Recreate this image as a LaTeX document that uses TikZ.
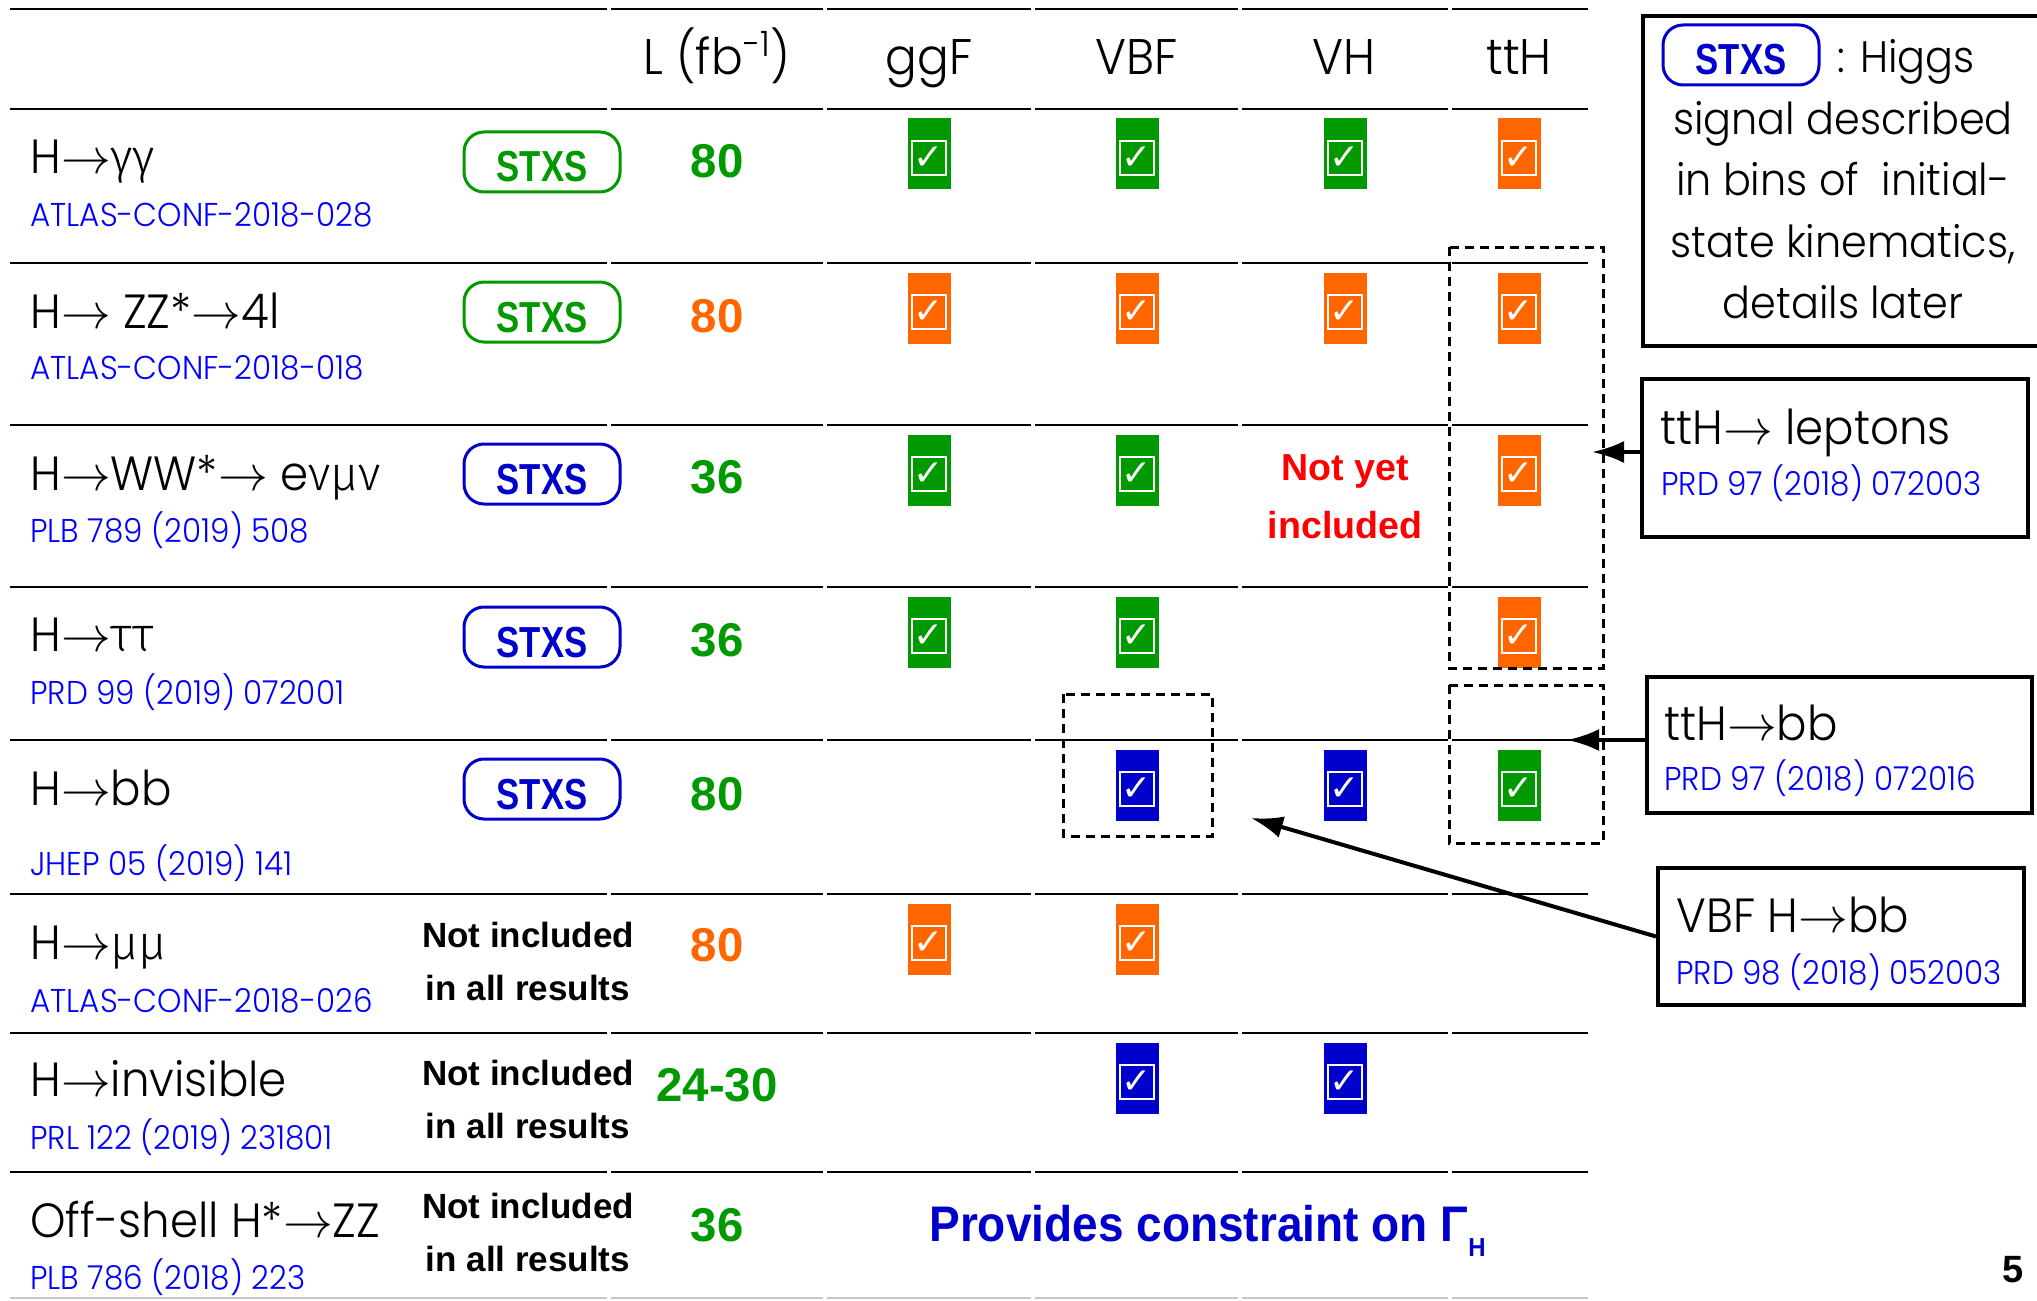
\documentclass[tikz,border=0pt]{standalone}
\usepackage{fontspec}
\setmainfont{Poppins}[UprightFont=* Light, FakeStretch=0.94]
\newfontfamily\grk{Fira Sans Light}
\newfontfamily\symfont{DejaVu Sans}
\newfontfamily\heavy{Liberation Sans Bold}
\newfontfamily\stxsfont{Liberation Sans Bold}[FakeStretch=0.8]
\newfontfamily\provfont{Liberation Sans Bold}[FakeStretch=0.92]
\usetikzlibrary{arrows.meta}
\tikzset{>={Latex[length=16pt,width=11pt]}}

\definecolor{tkgreen}{RGB}{0,153,0}
\definecolor{tkorange}{RGB}{255,102,0}
\definecolor{tkblue}{RGB}{0,0,204}
\definecolor{refblue}{RGB}{0,0,255}
\definecolor{nyred}{RGB}{255,0,0}

\newcommand{\hto}{\ensuremath{\rightarrow}}

\tikzset{
    rule/.style={line width=1.2pt},
    proc/.style={anchor=base west, inner sep=0pt, font=\fontsize{24}{24}\selectfont},
    paper/.style={anchor=base west, inner sep=0pt, text=refblue, font=\fontsize{16.5}{16.5}\selectfont},
    colhead/.style={anchor=base, inner sep=0pt, font=\fontsize{25}{25}\selectfont},
    lumi/.style={anchor=base, inner sep=0pt, text=#1, font=\heavy\fontsize{23.7}{23.7}\selectfont},
    note/.style={anchor=base, inner sep=0pt, font=\heavy\fontsize{17.5}{17.5}\selectfont},
    stxs/.style={draw=#1, text=#1, line width=1.5pt, rounded corners=10pt,
        minimum width=78pt, minimum height=30pt, inner sep=0pt, text height=20pt, text depth=0pt,
        font=\stxsfont\fontsize{21.7}{21.7}\selectfont},
    tickbox/.style={fill=#1, minimum width=21.5pt, minimum height=35.5pt, inner sep=0pt},
    tickmark/.style={draw=white, line width=1pt, minimum size=17pt, inner sep=0pt,
        text=white, font=\symfont\fontsize{18}{18}\selectfont},
    infobox/.style={draw, line width=2pt, anchor=north west, inner sep=0pt},
    group/.style={line width=1.5pt, dash pattern=on 4.5pt off 3pt}
}

\begin{document}
\begin{tikzpicture}[x=0.5pt, y=-0.5pt]
    \useasboundingbox (0,0) rectangle (2037,1300);
    \clip (0,0) rectangle (2037,1300);
    \fill[white] (0,0) rectangle (2037,1300);

    % table rules
    \foreach \y in {9,109,263,425,587,740,894,1033,1172}
        \foreach \a/\b in {10/607,611/823,827/1031,1035/1238,1242/1448,1452/1588}
            \draw[rule] (\a,\y) -- (\b,\y);
    \foreach \a/\b in {10/607,611/823,827/1031,1035/1238,1242/1448,1452/1588}
        \draw[rule, gray!45] (\a,1298) -- (\b,1298);

    % header
    \node[colhead] (hlumi) at (717,75) {L (fb\textsuperscript{-1})};
    \node[colhead] (hggf) at (929,75) {ggF};
    \node[colhead] (hvbf) at (1137,75) {VBF};
    \node[colhead] (hvh) at (1344,75) {VH};
    \node[colhead] (htth) at (1519,75) {ttH};

    % channels
    \node[proc] (pgg) at (30,174) {H\hto{\grk γγ}};
    \node[paper] (rgg) at (30,227) {ATLAS-CONF-2018-028};
    \node[proc] (pzz) at (30,328) {H\hto\ ZZ*\hto 4l};
    \node[paper] (rzz) at (30,379) {ATLAS-CONF-2018-018};
    \node[proc] (pww) at (30,490) {H\hto WW*\hto\ e{\grk νμν}};
    \node[paper] (rww) at (30,542) {PLB 789 (2019) 508};
    \node[proc] (ptt) at (30,651) {H\hto{\grk ττ}};
    \node[paper] (rtt) at (30,704) {PRD 99 (2019) 072001};
    \node[proc] (pbb) at (30,805) {H\hto bb};
    \node[paper] (rbb) at (30,875) {JHEP 05 (2019) 141};
    \node[proc] (pmm) at (30,959) {H\hto{\grk μμ}};
    \node[paper] (rmm) at (30,1012) {ATLAS-CONF-2018-026};
    \node[proc] (pinv) at (30,1096) {H\hto invisible};
    \node[paper] (rinv) at (30,1149) {PRL 122 (2019) 231801};
    \node[proc] (poff) at (30,1237) {Off-shell H*\hto ZZ};
    \node[paper] (roff) at (30,1289) {PLB 786 (2018) 223};

    % STXS tags
    \node[stxs=tkgreen] (sgg) at (542,162) {STXS};
    \node[stxs=tkgreen] (szz) at (542,312) {STXS};
    \node[stxs=tkblue] (sww) at (542,474) {STXS};
    \node[stxs=tkblue] (stt) at (542,637) {STXS};
    \node[stxs=tkblue] (sbb) at (542,789) {STXS};
    \node[note] (nmm1) at (528,947) {Not included};
    \node[note] (nmm2) at (528,1000) {in all results};
    \node[note] (ninv1) at (528,1085) {Not included};
    \node[note] (ninv2) at (528,1138) {in all results};
    \node[note] (noff1) at (528,1218) {Not included};
    \node[note] (noff2) at (528,1271) {in all results};

    % luminosities
    \node[lumi=tkgreen] (lgg) at (717,178) {80};
    \node[lumi=tkorange] (lzz) at (717,332) {80};
    \node[lumi=tkgreen] (lww) at (717,493) {36};
    \node[lumi=tkgreen] (ltt) at (717,656) {36};
    \node[lumi=tkgreen] (lbb) at (717,810) {80};
    \node[lumi=tkorange] (lmm) at (717,961) {80};
    \node[lumi=tkgreen] (linv) at (717,1101) {24-30};
    \node[lumi=tkgreen] (loff) at (717,1241) {36};

    % production modes
    \foreach \x/\y/\c in {929/109/tkgreen, 1137/109/tkgreen, 1345/109/tkgreen, 1519/109/tkorange,
            929/263/tkorange, 1137/263/tkorange, 1345/263/tkorange, 1519/263/tkorange,
            929/425/tkgreen, 1137/425/tkgreen, 1519/425/tkorange,
            929/587/tkgreen, 1137/587/tkgreen, 1519/587/tkorange,
            1137/740/tkblue, 1345/740/tkblue, 1519/740/tkgreen,
            929/894/tkorange, 1137/894/tkorange,
            1137/1033/tkblue, 1345/1033/tkblue} {
        \node[tickbox=\c] (box-\x-\y) at (\x,\y+45) {};
        \node[tickmark] (mark-\x-\y) at (\x,\y+49) {✓};
    }
    \node[note, text=nyred, font=\heavy\fontsize{18.8}{18.8}\selectfont] (ny1) at (1345,480) {Not yet};
    \node[note, text=nyred, font=\heavy\fontsize{18.8}{18.8}\selectfont] (ny2) at (1345,538) {included};
    \node[anchor=base west, inner sep=0pt, text=tkblue, font=\provfont\fontsize{25}{25}\selectfont] (width)
        at (929,1241) {Provides constraint on Γ\raisebox{-7.5pt}{\fontsize{13}{13}\selectfont H}};

    \draw[group] (1449,247) rectangle (1603,668);
    \draw[group] (1449,685) rectangle (1603,843);
    \draw[group] (1063,694) rectangle (1212,836);

    % side notes
    \node[infobox, minimum width=202pt, minimum height=165pt] (legend) at (1641,14) {};
    \node[stxs=tkblue] (slegend) at (1741,55) {STXS};
    \node[anchor=base west, inner sep=0pt, font=\fontsize{22}{22}\selectfont] (leg0) at (1837,73) {: Higgs};
    \node[anchor=base, inner sep=0pt, font=\fontsize{22}{22}\selectfont] (leg1) at (1843,135) {signal described};
    \node[anchor=base, inner sep=0pt, font=\fontsize{22}{22}\selectfont] (leg2) at (1843,196) {in bins of~ initial-};
    \node[anchor=base, inner sep=0pt, font=\fontsize{22}{22}\selectfont] (leg3) at (1843,257) {state kinematics,};
    \node[anchor=base, inner sep=0pt, font=\fontsize{22}{22}\selectfont] (leg4) at (1843,318) {details later};

    \node[infobox, minimum width=193pt, minimum height=79pt] (lepbox) at (1640,377) {};
    \node[proc] (lept) at (1660,444) {ttH\hto\ leptons};
    \node[paper] (lepr) at (1661,495) {PRD 97 (2018) 072003};
    \node[infobox, minimum width=192.5pt, minimum height=68pt] (bbbox) at (1645,675) {};
    \node[proc] (bbt) at (1664,740) {ttH\hto bb};
    \node[paper] (bbr) at (1664,790) {PRD 97 (2018) 072016};
    \node[infobox, minimum width=183pt, minimum height=68.5pt] (vbfbox) at (1656,866) {};
    \node[proc] (vbft) at (1676,932) {VBF H\hto bb};
    \node[paper] (vbfr) at (1676,984) {PRD 98 (2018) 052003};

    \coordinate (lepTip) at (1592,452);
    \coordinate (bbTip) at (1567,740);
    \coordinate (vbfTip) at (1251,818);
    \draw[->, line width=2pt] (lepbox.west |- lepTip) -- (lepTip);
    \draw[->, line width=2pt] (bbbox.west |- bbTip) -- (bbTip);
    \draw[->, line width=2pt] (vbfbox.west) -- (vbfTip);

    \node[anchor=base, inner sep=0pt, font=\heavy\fontsize{19}{19}\selectfont] (page) at (2013,1282) {5};
\end{tikzpicture}
\end{document}
